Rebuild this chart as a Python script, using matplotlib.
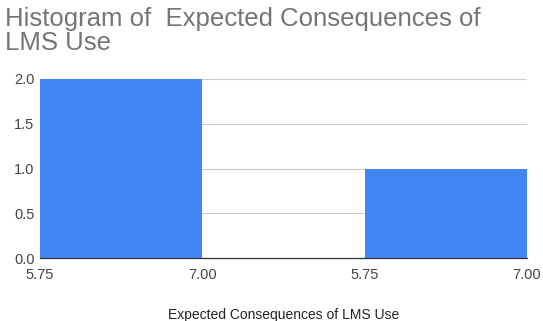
import matplotlib.pyplot as plt
import numpy as np

# histogram buckets (left edge, right edge) and counts
bucket_left = [0, 2]
bucket_right = [1, 3]
counts = [2, 1]
tick_pos = [0, 1, 2, 3]
tick_labels = ['5.75', '7.00', '5.75', '7.00']
y_ticks = [0.0, 0.5, 1.0, 1.5, 2.0]

plt.rcParams['font.family'] = ['Liberation Sans', 'DejaVu Sans']

fig = plt.figure(figsize=(5.43, 3.21), dpi=100)
ax = fig.add_axes([0.0737, 0.196, 0.8968, 0.558])

widths = np.array(bucket_right) - np.array(bucket_left)
ax.bar(bucket_left, counts, width=widths, align='edge', color='#4285f4', zorder=2)

ax.set_xlim(0, 3)
ax.set_ylim(0, 2)
ax.set_xticks(tick_pos)
ax.set_xticklabels(tick_labels)
ax.set_yticks(y_ticks)
ax.set_yticklabels(['%.1f' % v for v in y_ticks])
ax.tick_params(length=0, labelsize=10.5, colors='#444444', pad=4)
ax.tick_params(axis='x', pad=7)

ax.grid(axis='y', color='#cccccc', lw=0.8, zorder=0)
for s in ['top', 'right', 'left']:
    ax.spines[s].set_visible(False)
ax.spines['bottom'].set_color('#333333')
ax.spines['bottom'].set_linewidth(0.9)

ax.set_xlabel('Expected Consequences of LMS Use', fontsize=10, color='#222222', labelpad=19)

fig.text(0.009, 0.977, 'Histogram of  Expected Consequences of\nLMS Use', fontsize=18.5,
         color='#757575', va='top', ha='left', linespacing=0.98)

fig.savefig('out.png', dpi=100)
